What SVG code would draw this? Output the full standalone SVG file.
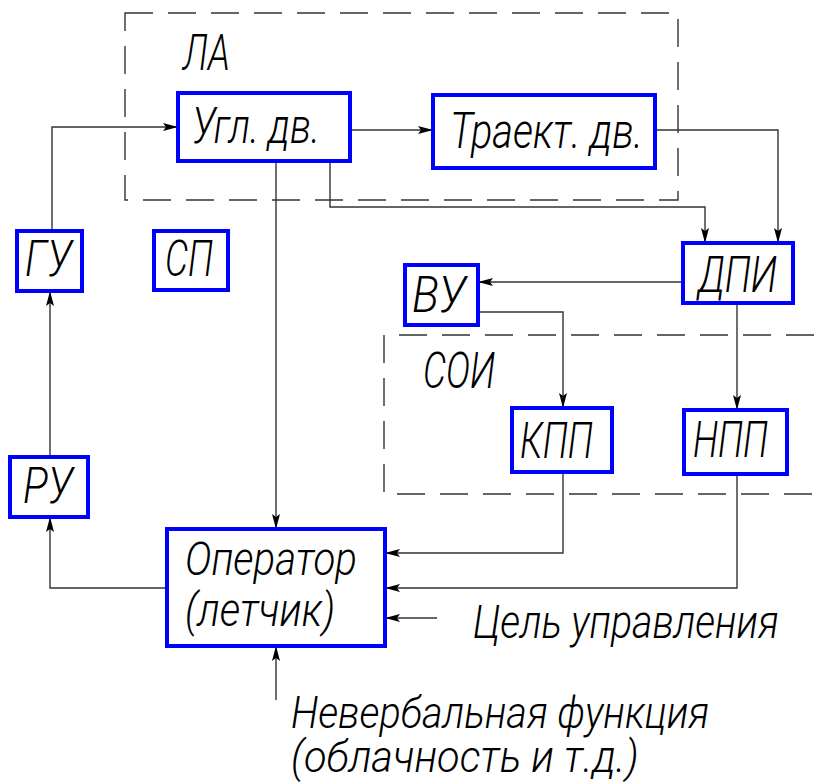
<svg xmlns="http://www.w3.org/2000/svg" width="814" height="782" viewBox="0 0 814 782">
  <style>
    .blk { fill: #ffffff; stroke: #0000ff; stroke-width: 4; }
    .frame { fill: none; stroke: #333333; stroke-width: 1.4; stroke-dasharray: 28 15; }
    .ln { fill: none; stroke: #333333; stroke-width: 1.4; marker-end: url(#arr); }
    .t { font-family: Roboto, "DejaVu Sans", sans-serif; font-style: italic; font-weight: 300; font-size: 50px; fill: #000000; }
    .s { font-size: 46px; }
    .b { font-size: 45px; }
  </style>
  <defs>
    <marker id="arr" markerUnits="userSpaceOnUse" markerWidth="18" markerHeight="12" refX="15" refY="5" orient="auto">
      <path d="M0,1 L15,5 L0,9 L3,5 Z" fill="#000000"/>
    </marker>
  </defs>

  <rect id="frame-la" class="frame" x="125" y="13" width="553" height="187"/>
  <path id="frame-soi" class="frame" d="M814,335 H384 V494 H814"/>
  <text class="t" x="183" y="70" textLength="47" lengthAdjust="spacingAndGlyphs">ЛА</text>
  <text class="t" x="423" y="388" textLength="72" lengthAdjust="spacingAndGlyphs">СОИ</text>

  <g id="connectors">
    <path class="ln" d="M52,231 V127 H178"/>
    <path class="ln" d="M350,130 H433"/>
    <path class="ln" d="M655,130 H778 V243"/>
    <path class="ln" d="M330,161 V207 H705 V243"/>
    <path class="ln" d="M276,161 V529"/>
    <path class="ln" d="M683,282 H478"/>
    <path class="ln" d="M478,312 H563 V408"/>
    <path class="ln" d="M737,303 V410"/>
    <path class="ln" d="M563,472 V553 H385"/>
    <path class="ln" d="M737,474 V588 H385"/>
    <path class="ln" d="M437,618 H385"/>
    <path class="ln" d="M276,700 V646"/>
    <path class="ln" d="M167,588 H50 V517"/>
    <path class="ln" d="M50,457 V291"/>
  </g>

  <g id="ugl">
    <rect class="blk" x="178" y="93" width="172" height="68"/>
    <text class="t" x="192" y="143" textLength="128" lengthAdjust="spacingAndGlyphs">Угл. дв.</text>
  </g>
  <g id="traekt">
    <rect class="blk" x="433" y="95" width="222" height="73"/>
    <text class="t" x="450" y="148" textLength="193" lengthAdjust="spacingAndGlyphs">Траект. дв.</text>
  </g>
  <g id="dpi">
    <rect class="blk" x="683" y="243" width="110" height="60"/>
    <text class="t" x="698" y="292" textLength="79" lengthAdjust="spacingAndGlyphs">ДПИ</text>
  </g>
  <g id="vu">
    <rect class="blk" x="405" y="265" width="73" height="60"/>
    <text class="t" x="412" y="312" textLength="54" lengthAdjust="spacingAndGlyphs">ВУ</text>
  </g>
  <g id="gu">
    <rect class="blk" x="17" y="231" width="65" height="60"/>
    <text class="t" x="25" y="276" textLength="47" lengthAdjust="spacingAndGlyphs">ГУ</text>
  </g>
  <g id="sp">
    <rect class="blk" x="154" y="231" width="74" height="59"/>
    <text class="t" x="165" y="276" textLength="48" lengthAdjust="spacingAndGlyphs">СП</text>
  </g>
  <g id="ru">
    <rect class="blk" x="10" y="457" width="78" height="60"/>
    <text class="t" x="23" y="503" textLength="50" lengthAdjust="spacingAndGlyphs">РУ</text>
  </g>
  <g id="kpp">
    <rect class="blk" x="512" y="408" width="100" height="64"/>
    <text class="t" x="520" y="458" textLength="73" lengthAdjust="spacingAndGlyphs">КПП</text>
  </g>
  <g id="npp">
    <rect class="blk" x="684" y="410" width="103" height="64"/>
    <text class="t" x="693" y="457" textLength="75" lengthAdjust="spacingAndGlyphs">НПП</text>
  </g>
  <g id="operator">
    <rect class="blk" x="167" y="529" width="218" height="117"/>
    <text class="t s" x="185" y="575" textLength="172" lengthAdjust="spacingAndGlyphs">Оператор</text>
    <text class="t s" x="185" y="626" textLength="150" lengthAdjust="spacingAndGlyphs">(летчик)</text>
  </g>

  <!-- long labels: condensed horizontally so the run stays inside the sheet -->
  <text class="t s" transform="translate(473,638) scale(0.8,1)" x="0" y="0" textLength="382" lengthAdjust="spacingAndGlyphs">Цель управления</text>
  <text class="t b" transform="translate(291,728) scale(0.85,1)" x="0" y="0" textLength="492" lengthAdjust="spacingAndGlyphs">Невербальная функция</text>
  <text class="t b" transform="translate(291,772) scale(0.85,1)" x="0" y="0" textLength="409" lengthAdjust="spacingAndGlyphs">(облачность и т.д.)</text>
</svg>
